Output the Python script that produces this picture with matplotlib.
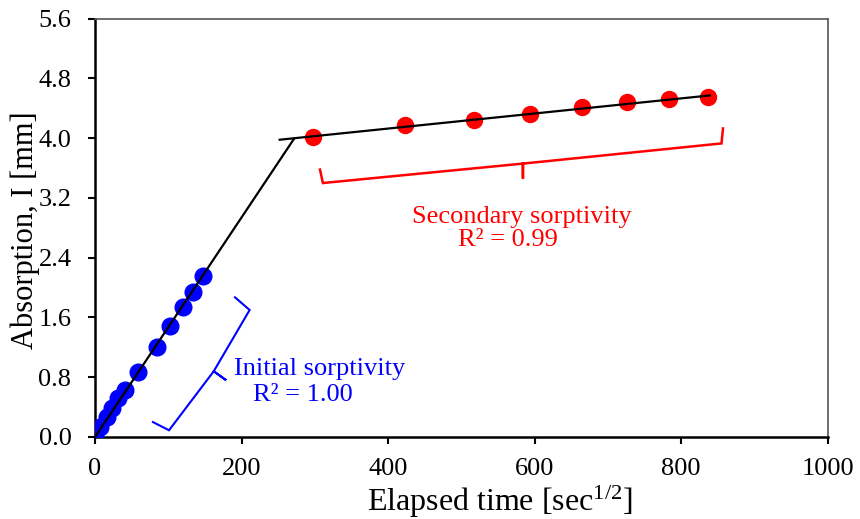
import matplotlib
matplotlib.use("Agg")
import matplotlib.pyplot as plt
import numpy as np

plt.rcParams['font.family'] = ['Liberation Serif', 'DejaVu Serif']
plt.rcParams['mathtext.fontset'] = 'custom'
plt.rcParams['mathtext.rm'] = 'Liberation Serif'
plt.rcParams['mathtext.it'] = 'Liberation Serif:italic'

# Data (elapsed time in sec^1/2, absorption in mm)
t_initial = [0, 7, 16, 23, 31, 41, 59, 85, 102, 120, 134, 147]
i_initial = [0.0, 0.13, 0.27, 0.39, 0.52, 0.63, 0.87, 1.20, 1.48, 1.74, 1.94, 2.16]
t_secondary = [297, 423, 517, 593, 664, 726, 783, 836]
i_secondary = [4.01, 4.18, 4.25, 4.32, 4.42, 4.48, 4.52, 4.55]

# Fit lines (slope, intercept, x range)
fit1_slope, fit1_icpt, fit1_x = 0.0147, 0.0, [0, 272]
fit2_slope, fit2_icpt, fit2_x = 0.00101, 3.725, [252, 839]

# Brace outlines (data coords)
brace1_x = [79, 101, 162, 179, 162, 211, 191]
brace1_y = [0.20, 0.09, 0.88, 0.76, 0.88, 1.70, 1.87]
brace2_x = [307, 311, 584, 584, 584, 855, 857]
brace2_y = [3.58, 3.40, 3.66, 3.46, 3.66, 3.93, 4.13]

xticks = [0, 200, 400, 600, 800, 1000]
yticks = [0.0, 0.8, 1.6, 2.4, 3.2, 4.0, 4.8, 5.6]

fig = plt.figure(figsize=(8.6, 5.19), dpi=100)
ax = fig.add_axes([0.1105, 0.158, 0.852, 0.806])

ax.plot(t_initial, i_initial, 'o', color='#0000ff', ms=12, mec='#0000ff', zorder=3)
ax.plot(t_secondary, i_secondary, 'o', color='#ff0000', ms=11.5, mec='#ff0000', zorder=3)

x1 = np.array(fit1_x)
ax.plot(x1, fit1_slope * x1 + fit1_icpt, color='black', lw=1.6, zorder=4)
x2 = np.array(fit2_x)
ax.plot(x2, fit2_slope * x2 + fit2_icpt, color='black', lw=1.6, zorder=4)

ax.plot(brace1_x, brace1_y, color='#0000ff', lw=1.5, solid_joinstyle='miter')
ax.plot(brace2_x, brace2_y, color='#ff0000', lw=1.8, solid_joinstyle='miter')

ax.text(307, 0.83, 'Initial sorptivity', color='#0000ff', fontsize=19, ha='center', va='baseline')
ax.text(284, 0.48, 'R² = 1.00', color='#0000ff', fontsize=19, ha='center', va='baseline')
ax.text(582, 2.87, 'Secondary sorptivity', color='#ff0000', fontsize=19, ha='center', va='baseline')
ax.text(563, 2.56, 'R² = 0.99', color='#ff0000', fontsize=19, ha='center', va='baseline')

ax.set_xlim(0, 1000)
ax.set_ylim(0, 5.6)
ax.set_xticks(xticks)
ax.set_yticks(yticks)
ax.set_xticklabels([str(v) for v in xticks])
ax.set_yticklabels([f'{v:.1f}' for v in yticks])
ax.tick_params(direction='out', length=5, width=1.5, labelsize=19, colors='black')
ax.tick_params(axis='x', pad=10)
ax.tick_params(axis='y', pad=12)

for s in ['left', 'bottom']:
    ax.spines[s].set_linewidth(1.8)
    ax.spines[s].set_color('black')
for s in ['top', 'right']:
    ax.spines[s].set_linewidth(1.2)
    ax.spines[s].set_color('#555555')

ax.set_xlabel(r'Elapsed time [sec$^{1/2}$]', fontsize=23, labelpad=0)
ax.xaxis.set_label_coords(0.552, -0.112)
ax.set_ylabel('Absorption, I [mm]', fontsize=22, labelpad=0)
ax.yaxis.set_label_coords(-0.0755, 0.495)

fig.savefig('out.png', dpi=100)
